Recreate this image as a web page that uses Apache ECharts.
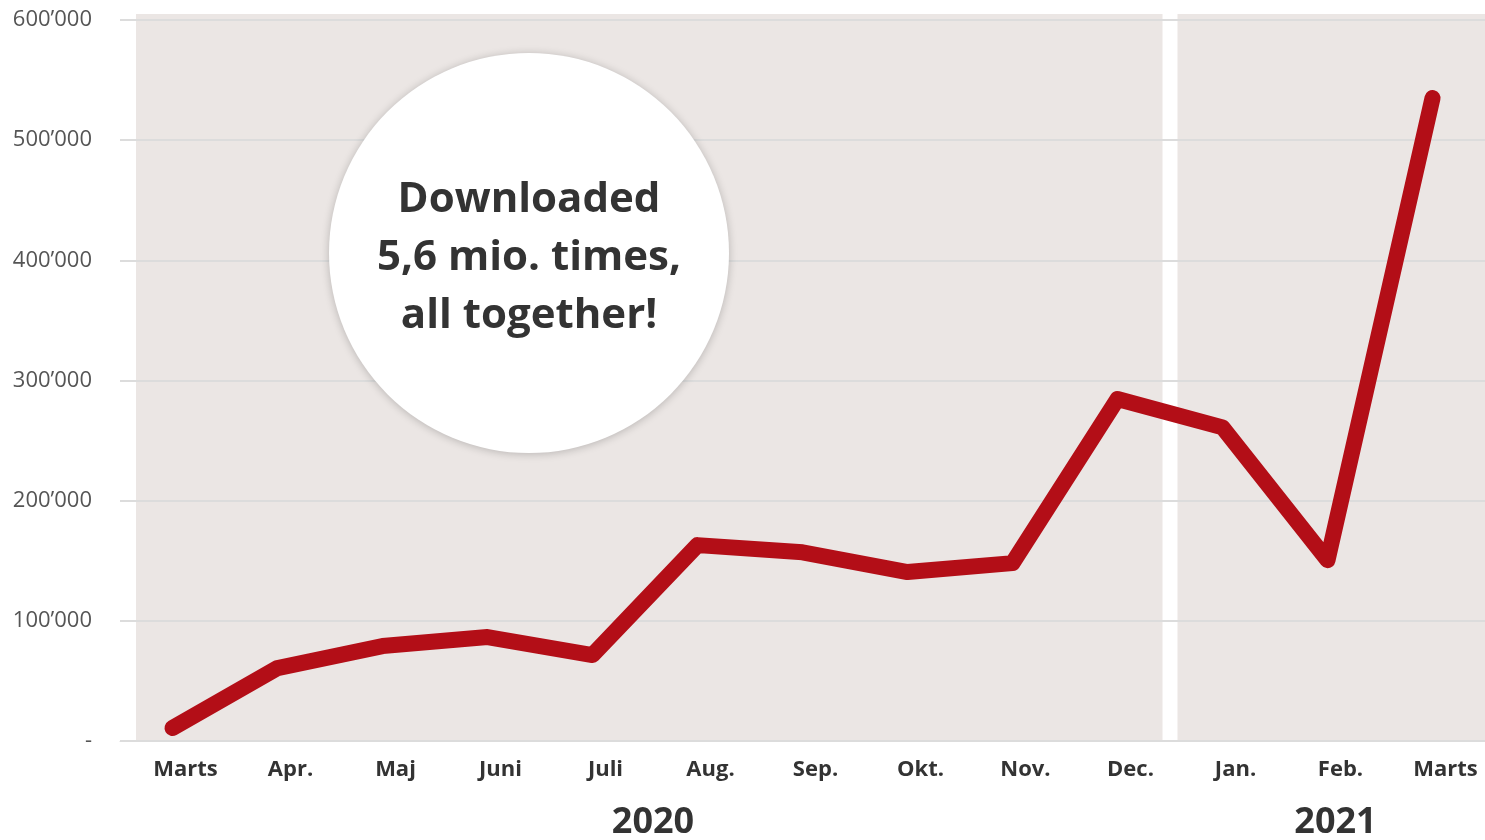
<!DOCTYPE html>
<html>
<head>
<meta charset="utf-8">
<style>
  html, body { margin: 0; padding: 0; background: #fff; }
  #chart { width: 1485px; height: 840px; }
</style>
<script src="https://cdn.jsdelivr.net/npm/echarts@6/dist/echarts.min.js"></script>
</head>
<body>
<div id="chart"></div>
<script>
// monthly downloads, March 2020 - March 2021
const months = ['Marts', 'Apr.', 'Maj', 'Juni', 'Juli', 'Aug.', 'Sep.', 'Okt.', 'Nov.', 'Dec.', 'Jan.', 'Feb.', 'Marts']
const downloads = [10800, 60700, 79000, 86500, 71500, 163000, 157000, 140600, 148000, 284600, 261000, 150500, 535000]
const years = ['2020', '2021']
const yearSpan = [[0, 9], [10, 12]] // first/last month index of each year
const yTicks = [0, 100000, 200000, 300000, 400000, 500000, 600000]
const note = ['Downloaded', '5,6 mio. times,', 'all together!']

const chart = echarts.init(document.getElementById('chart'))
const labelFont = '"Open Sans", "Noto Sans", sans-serif'

function fmt(v) {
  if (v === 0) return '-'
  return String(v).replace(/\B(?=(\d{3})+(?!\d))/g, '\u2019')
}

chart.setOption({
  animation: false,
  grid: { left: 120, right: 0, top: 20, bottom: 99 },
  xAxis: {
    type: 'category',
    data: months,
    boundaryGap: true,
    axisLine: { lineStyle: { color: '#dcdcdc', width: 1 } },
    axisTick: { show: false },
    axisLabel: {
      color: '#333',
      fontFamily: labelFont,
      fontWeight: 'bold',
      fontSize: 22,
      margin: 18,
      padding: [0, 0, 0, 26]
    }
  },
  yAxis: {
    type: 'value',
    min: yTicks[0],
    max: yTicks[yTicks.length - 1],
    interval: 100000,
    axisLine: { show: false },
    axisTick: { show: false },
    splitLine: { lineStyle: { color: '#dcdcdc', width: 2 } },
    axisLabel: {
      color: '#555',
      fontFamily: labelFont,
      fontSize: 22,
      margin: 28,
      formatter: fmt
    }
  },
  series: [{
    type: 'line',
    data: downloads,
    symbol: 'none',
    z: 5,
    lineStyle: { color: '#b30e17', width: 16, cap: 'round', join: 'round' }
  }]
})

// background bands, year labels and note bubble placed from the axes
const px = i => chart.convertToPixel({ xAxisIndex: 0 }, i)
const py = v => chart.convertToPixel({ yAxisIndex: 0 }, v)
const step = px(1) - px(0)
const yTop = py(600000) - 6
const yBottom = py(0)
const splitX = (px(9) + px(10)) / 2
const bandLeft = px(0) - step / 2 + 16
const bandRight = 1485

const graphics = [
  {
    type: 'rect', z: -10, silent: true,
    shape: { x: bandLeft, y: yTop, width: splitX - 7.5 - bandLeft, height: yBottom - yTop },
    style: { fill: '#ebe6e4' }
  },
  {
    type: 'rect', z: -10, silent: true,
    shape: { x: splitX + 7.5, y: yTop, width: bandRight - splitX - 7.5, height: yBottom - yTop },
    style: { fill: '#ebe6e4' }
  }
]

years.forEach((y, k) => {
  const cx = (px(yearSpan[k][0]) + px(yearSpan[k][1])) / 2 + 8
  graphics.push({
    type: 'text', z: 50,
    x: cx, y: 823,
    style: {
      text: y, fill: '#333', font: 'bold 36px ' + labelFont,
      align: 'center', verticalAlign: 'middle'
    }
  })
})

graphics.push({
  type: 'circle', z: 100,
  shape: { cx: 529, cy: 253, r: 200 },
  style: { fill: '#fff', shadowBlur: 8, shadowColor: 'rgba(0,0,0,0.22)', shadowOffsetY: 1 }
})
graphics.push({
  type: 'text', z: 101,
  x: 529, y: 258,
  style: {
    text: note.join('\n'), fill: '#333', font: 'bold 42px ' + labelFont,
    align: 'center', verticalAlign: 'middle', lineHeight: 58
  }
})

chart.setOption({ graphic: graphics })
</script>
</body>
</html>
